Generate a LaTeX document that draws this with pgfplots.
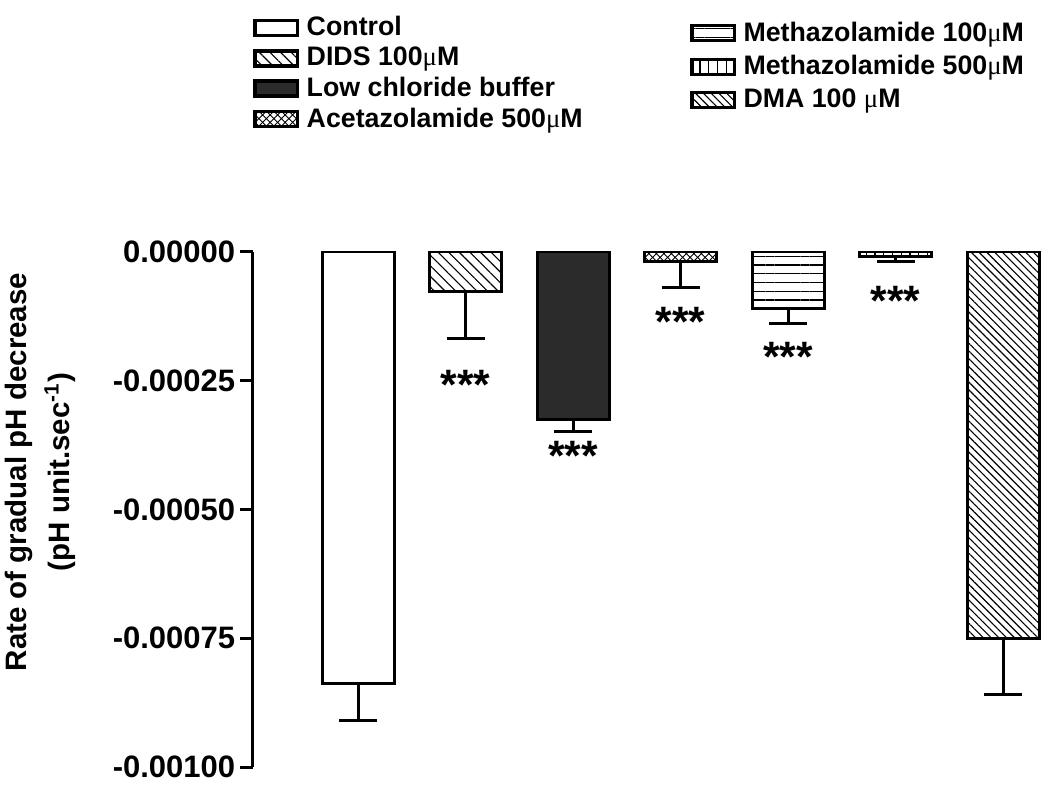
\documentclass[border=0pt]{standalone}
\usepackage{pgfplots}
\pgfplotsset{compat=1.18}
\usepackage{fontspec}
\setmainfont{Liberation Sans}
\newfontfamily\mufont{Liberation Serif}
\newcommand{\umu}{{\mufont\mdseries μ}}
\usetikzlibrary{patterns,patterns.meta}
\definecolor{darkbar}{HTML}{2B2B2B}
\begin{document}
\begin{tikzpicture}[x=1pt,y=1pt]
\useasboundingbox (-101.2pt,-9.2pt) rectangle (318.8pt,306.8pt);
\begin{axis}[
  scale only axis,
  width=318.8pt, height=206pt,
  at={(0,0)}, anchor=south west,
  xmin=-0.977, xmax=6.437,
  ymin=-0.001, ymax=0,
  axis x line=none,
  axis y line*=left,
  axis line style={line width=1.2pt},
  scaled y ticks=false,
  ytick={-0.001,-0.00075,-0.0005,-0.00025,0},
  yticklabels={-0.00100,-0.00075,-0.00050,-0.00025,0.00000},
  yticklabel style={font=\fontsize{12.4}{14}\selectfont\bfseries, xshift=1.4pt},
  tick align=outside,
  major tick length=5pt,
  y tick style={line width=1.2pt, black},
  ylabel={Rate of gradual pH decrease\\(pH unit.sec\textsuperscript{-1})},
  ylabel style={align=center, font=\fontsize{11.8}{17}\selectfont\bfseries, yshift=8pt, xshift=15pt},
  ybar, bar shift=0pt, bar width=0.67,
  every axis plot/.append style={draw=black, line width=1.2pt},
  legend image code/.code={\draw[#1, line width=1.4pt] (0pt,-3pt) rectangle (17pt,3pt);},
  legend style={draw=none, fill=none, at={(axis description cs:0,1.468)}, anchor=north west,
    font=\fontsize{10.7}{12}\selectfont\bfseries, inner sep=0pt, row sep=-1pt,
    cells={anchor=west},
    /tikz/every odd column/.append style={column sep=0.9pt}},
  error bars/y dir=minus,
  error bars/y explicit,
  error bars/error bar style={line width=1.2pt, black},
  error bars/error mark options={line width=1.2pt, black, mark size=7.6pt, rotate=90},
]
\addplot[fill=white] coordinates {(0,-0.000837) +- (0,0.000072)};
\addlegendentry{Control}
\addplot[fill=white, postaction={pattern={Lines[angle=-45,distance=3pt,line width=0.45pt]}}] coordinates {(1,-0.000076) +- (0,0.000091)};
\addlegendentry{DIDS 100\umu M}
\addplot[fill=darkbar] coordinates {(2,-0.000326) +- (0,0.000022)};
\addlegendentry{Low chloride buffer}
\addplot[fill=white, postaction={pattern={crosshatch}}] coordinates {(3,-0.0000194) +- (0,0.000049)};
\addlegendentry{Acetazolamide 500\umu M}
\addplot[fill=white, postaction={pattern={Lines[angle=0,distance=3.5pt,line width=0.45pt]}}, forget plot] coordinates {(4,-0.000109) +- (0,0.000029)};
\addplot[fill=white, postaction={pattern={Lines[angle=90,distance=3.5pt,line width=0.45pt]}}, forget plot] coordinates {(5,-0.0000078) +- (0,0.0000116)};
\addplot[fill=white, postaction={pattern={Lines[angle=-45,distance=2.2pt,line width=0.45pt]}}, forget plot] coordinates {(6,-0.000751) +- (0,0.000109)};
\begin{scope}[font=\fontsize{17}{17}\selectfont\bfseries]
\node[anchor=base] at (axis cs:1,-0.000287) {***};
\node[anchor=base] at (axis cs:2,-0.000425) {***};
\node[anchor=base] at (axis cs:3,-0.000165) {***};
\node[anchor=base] at (axis cs:4,-0.000232) {***};
\node[anchor=base] at (axis cs:5,-0.000123) {***};
\end{scope}
\end{axis}
\begin{axis}[
  scale only axis,
  width=318.8pt, height=206pt,
  at={(0,0)}, anchor=south west,
  xmin=0, xmax=1, ymin=0, ymax=1,
  hide axis,
  legend image code/.code={\draw[#1, line width=1.4pt] (0pt,-3pt) rectangle (17pt,3pt);},
  legend style={draw=none, fill=none, at={(axis description cs:0.548,1.458)}, anchor=north west,
    font=\fontsize{10.7}{12}\selectfont\bfseries, inner sep=0pt, row sep=0.2pt,
    cells={anchor=west},
    /tikz/every odd column/.append style={column sep=0.9pt}},
]
\addlegendimage{draw=black, fill=white, postaction={pattern={Lines[angle=0,distance=3.5pt,line width=0.45pt]}}}
\addlegendentry{Methazolamide 100\umu M}
\addlegendimage{draw=black, fill=white, postaction={pattern={Lines[angle=90,distance=3.5pt,line width=0.45pt]}}}
\addlegendentry{Methazolamide 500\umu M}
\addlegendimage{draw=black, fill=white, postaction={pattern={Lines[angle=-45,distance=2.2pt,line width=0.45pt]}}}
\addlegendentry{DMA 100 \umu M}
\end{axis}
\end{tikzpicture}
\end{document}
